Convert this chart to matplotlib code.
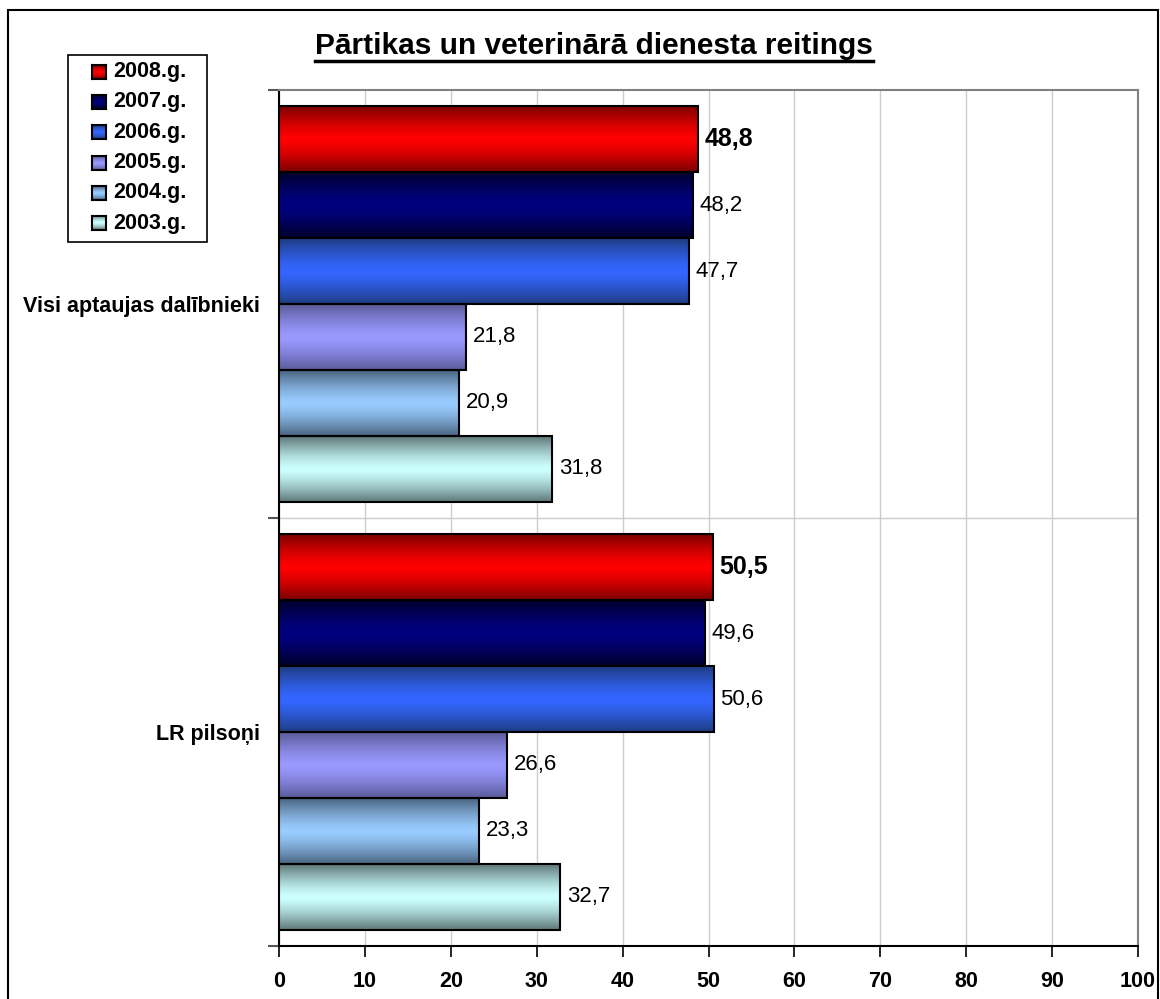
import numpy as np
import matplotlib.pyplot as plt
from matplotlib.patches import Rectangle
from matplotlib.lines import Line2D

plt.rcParams['font.family'] = ['Liberation Sans', 'DejaVu Sans']

# data
categories = ['Visi aptaujas dalībnieki', 'LR pilsoņi']
years = ['2008.g.', '2007.g.', '2006.g.', '2005.g.', '2004.g.', '2003.g.']
v2008 = [48.8, 50.5]
v2007 = [48.2, 49.6]
v2006 = [47.7, 50.6]
v2005 = [21.8, 26.6]
v2004 = [20.9, 23.3]
v2003 = [31.8, 32.7]
series = [v2008, v2007, v2006, v2005, v2004, v2003]

# middle colour and edge colour of each bar gradient
mid_colors = ['#ff0000', '#000080', '#3366ff', '#9999ff', '#99ccff', '#ccffff']
edge_colors = ['#7a0000', '#00002a', '#1f3c80', '#5a5a99', '#4a6480', '#5e7777']

W, H = 1160, 999


def to_rgb(h):
    h = h.lstrip('#')
    return np.array([int(h[i:i + 2], 16) for i in (0, 2, 4)]) / 255.0


def gradient(mid, edge, n=80):
    t = np.abs(np.linspace(-1, 1, n)) ** 1.4
    m, e = to_rgb(mid), to_rgb(edge)
    g = m[None, :] * (1 - t[:, None]) + e[None, :] * t[:, None]
    return g[:, None, :]


fig = plt.figure(figsize=(11.6, 9.99), dpi=100)
ax = fig.add_axes([279 / W, 1 - 946 / H, (1138 - 279) / W, (946 - 90) / H])

h = 0.154
y = np.arange(len(categories))
for i, vals in enumerate(series):
    pos = y + (i - 2.5) * h
    bars = ax.barh(pos, vals, height=h, color='none', edgecolor='black', lw=1.5, zorder=4)
    img = gradient(mid_colors[i], edge_colors[i])
    for b in bars:
        ax.imshow(img, extent=[b.get_x(), b.get_x() + b.get_width(), b.get_y(), b.get_y() + b.get_height()],
                  aspect='auto', interpolation='bilinear', zorder=3)
    for p, v in zip(pos, vals):
        lab = f'{v:.1f}'.replace('.', ',')
        if i == 0:
            ax.text(v + 0.8, p, lab, va='center', ha='left', fontsize=18, fontweight='bold', zorder=5)
        else:
            ax.text(v + 0.8, p, lab, va='center', ha='left', fontsize=16, zorder=5)

ax.set_xlim(0, 100)
ax.set_ylim(1.5, -0.5)
ax.set_xticks(range(0, 101, 10))
ax.set_xticklabels([str(t) for t in range(0, 101, 10)], fontsize=15.5, fontweight='bold')
ax.set_yticks([-0.5, 0.5, 1.5])
ax.set_yticklabels([])
ax.set_yticks(y, minor=True)
ax.set_yticklabels(categories, minor=True, fontsize=15.5, fontweight='bold')
ax.tick_params(axis='y', which='minor', length=0, pad=14)
ax.tick_params(axis='y', which='major', length=8, width=1.5, color='#555555')
ax.tick_params(axis='x', length=8, width=1.2, pad=10)

ax.xaxis.grid(True, color='#cccccc', lw=1)
ax.axhline(0.5, color='#cccccc', lw=1, zorder=1)
ax.set_axisbelow(True)
for s in ['top', 'right']:
    ax.spines[s].set_color('#808080')
    ax.spines[s].set_linewidth(1.5)
for s in ['left', 'bottom']:
    ax.spines[s].set_color('black')
    ax.spines[s].set_linewidth(1.5)

# legend box drawn by hand (frame, gradient squares, labels)
fig.add_artist(Rectangle((68 / W, 1 - 242 / H), (207 - 68) / W, (242 - 55) / H,
                         transform=fig.transFigure, fill=False, ec='black', lw=1.2))
for k, (lab, mc, ec) in enumerate(zip(years, mid_colors, edge_colors)):
    cy = 71.7 + k * 30.3
    sq = fig.add_axes([92 / W, 1 - (cy + 7) / H, 14 / W, 14 / H])
    sq.imshow(gradient(mc, ec, 20), aspect='auto', interpolation='bilinear')
    sq.set_xticks([])
    sq.set_yticks([])
    for s in sq.spines.values():
        s.set_linewidth(1.5)
    fig.text(113 / W, 1 - cy / H, lab, ha='left', va='center', fontsize=15.5, fontweight='bold')

title = fig.text(594 / W, 1 - 46 / H, 'Pārtikas un veterinārā dienesta reitings',
                 ha='center', va='center', fontsize=21.5, fontweight='bold')

# underline the title
fig.canvas.draw()
bb = title.get_window_extent().transformed(fig.transFigure.inverted())
uy = 1 - 60.5 / H
fig.add_artist(Line2D([bb.x0, bb.x1], [uy, uy], color='black', lw=2.5, transform=fig.transFigure))

# outer frame
fig.add_artist(Rectangle((8 / W, -2 / H), 1150 / W, 991 / H, transform=fig.transFigure,
                         fill=False, ec='black', lw=1.5))

fig.savefig('out.png', dpi=100)
